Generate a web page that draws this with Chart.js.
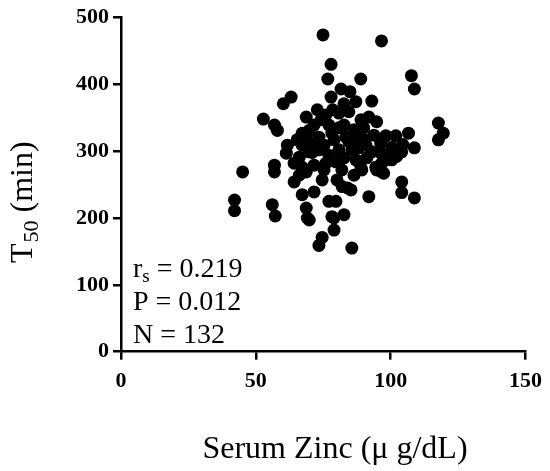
<!DOCTYPE html>
<html>
<head>
<meta charset="utf-8">
<script src="https://cdn.jsdelivr.net/npm/chart.js@4"></script>
<style>
  html, body { margin: 0; padding: 0; background: #fff; }
  #wrap { width: 550px; height: 471px; position: relative; }
</style>
</head>
<body>
<div id="wrap"><canvas id="myChart" width="550" height="471"></canvas></div>
<script>
// serum zinc (µg/dL) per patient
const zincValues = [
  74.9, 96.6, 77.9, 76.7, 88.9, 77.9, 81.6, 84.9, 87.1, 93.0,
  82.7, 107.7, 108.8, 63.1, 60.2, 52.8, 56.9, 58.0, 68.7, 74.2,
  80.8, 91.9, 94.8, 117.7, 119.5, 117.7, 106.6, 101.9, 98.2, 108.8,
  93.0, 100.4, 102.2, 104.1, 96.7, 94.8, 97.4, 87.1, 89.0, 104.1,
  104.1, 108.8, 91.9, 85.3, 80.1, 82.0, 79.7, 82.7, 78.2, 79.0,
  85.6, 45.1, 42.1, 42.1, 56.9, 56.9, 56.1, 57.2, 61.3, 64.2,
  66.1, 64.2, 67.2, 68.7, 69.1, 67.2, 68.7, 68.7, 69.8, 67.2,
  68.7, 74.6, 76.0, 79.7, 81.9, 84.0, 88.2, 89.3, 71.6, 69.8,
  77.1, 74.6, 73.4, 79.0, 96.3, 94.5, 98.2, 67.2, 73.4, 78.2,
  83.4, 88.2, 90.8, 73.4, 70.9, 80.8, 85.6, 100.4, 103.0, 100.4,
  96.7, 69.8, 71.6, 77.1, 82.7, 86.4, 90.0, 75.3, 79.0, 84.5,
  88.2, 80.8, 77.1, 82.7, 71.6, 75.3, 65.3, 89.0, 84.5, 78.5,
  76.0, 90.5, 93.8, 61.7, 66.1, 72.8, 86.4, 96.4, 104.5, 91.2,
  72.5, 87.5
];
// T50 (min), same order
const t50Values = [
  474, 465, 430, 408, 408, 381, 393, 389, 374, 375,
  371, 413, 393, 381, 371, 348, 339, 331, 351, 347,
  357, 351, 344, 342, 327, 317, 327, 323, 323, 305,
  299, 299, 292, 299, 282, 272, 267, 287, 275, 254,
  238, 230, 232, 242, 257, 247, 225, 205, 202, 182,
  155, 269, 227, 211, 279, 269, 220, 203, 297, 282,
  291, 254, 235, 215, 200, 309, 321, 312, 299, 276,
  269, 257, 282, 284, 272, 245, 284, 272, 239, 197,
  225, 171, 159, 200, 312, 276, 287, 327, 321, 327,
  321, 324, 309, 302, 298, 302, 302, 306, 297, 287,
  269, 331, 339, 339, 339, 332, 335, 309, 317, 314,
  305, 335, 294, 290, 279, 272, 317, 347, 359, 362,
  354, 317, 324, 309, 264, 362, 264, 297, 310, 290,
  313, 318
];

const xTicks = [0, 50, 100, 150];
const yTicks = [0, 100, 200, 300, 400, 500];
const statLines = [
  { main: 'r', sub: 's', rest: ' = 0.219' },
  { main: 'P = 0.012' },
  { main: 'N = 132' }
];

const SERIF = "'Liberation Serif', 'Times New Roman', serif";

const points = zincValues.map((x, i) => ({ x: x, y: t50Values[i] }));

// titles and stats text drawn by hand (subscripts)
const textPlugin = {
  id: 'textPlugin',
  afterDraw(chart) {
    const ctx = chart.ctx;
    const area = chart.chartArea;
    ctx.save();
    ctx.fillStyle = '#000';
    ctx.textBaseline = 'alphabetic';

    // x title
    ctx.font = '32px ' + SERIF;
    ctx.textAlign = 'center';
    ctx.fillText('Serum Zinc (\u03bc g/dL)', 335, 458);

    // y title, rotated, with subscript
    ctx.save();
    ctx.translate(32, 263);
    ctx.rotate(-Math.PI / 2);
    ctx.textAlign = 'left';
    ctx.font = '32px ' + SERIF;
    ctx.fillText('T', 0, 0);
    let w = ctx.measureText('T').width;
    ctx.font = '22px ' + SERIF;
    ctx.fillText('50', w + 1, 6);
    w += ctx.measureText('50').width + 1;
    ctx.font = '32px ' + SERIF;
    ctx.fillText(' (min)', w, 0);
    ctx.restore();

    // stats lines
    ctx.textAlign = 'left';
    let y = 277;
    statLines.forEach(line => {
      let x = area.left + 12;
      ctx.font = '28px ' + SERIF;
      ctx.fillText(line.main, x, y);
      x += ctx.measureText(line.main).width;
      if (line.sub) {
        ctx.font = '19px ' + SERIF;
        ctx.fillText(line.sub, x, y + 5);
        x += ctx.measureText(line.sub).width;
        ctx.font = '28px ' + SERIF;
        ctx.fillText(line.rest, x, y);
      }
      y += 33;
    });
    ctx.restore();
  }
};

new Chart(document.getElementById('myChart'), {
  type: 'scatter',
  data: {
    datasets: [{
      data: points,
      backgroundColor: '#000',
      borderColor: '#000',
      pointRadius: 6.5,
      pointHoverRadius: 6.5,
      borderWidth: 0
    }]
  },
  options: {
    responsive: false,
    animation: false,
    events: [],
    layout: { padding: { top: 17.5, right: 22.3, left: 0, bottom: 0 } },
    plugins: {
      legend: { display: false },
      tooltip: { enabled: false }
    },
    scales: {
      x: {
        type: 'linear',
        min: 0,
        max: 150,
        afterBuildTicks(scale) { scale.ticks = xTicks.map(v => ({ value: v })); },
        afterFit(scale) { scale.height = 471 - 351.7; },
        border: { display: true, color: '#000', width: 2.5 },
        grid: { display: true, drawOnChartArea: false, drawTicks: true, tickLength: 8, color: '#000', lineWidth: 2.5 },
        ticks: { color: '#000', padding: 8, font: { family: SERIF, size: 22, weight: 'bold' } }
      },
      y: {
        type: 'linear',
        min: 0,
        max: 500,
        afterBuildTicks(scale) { scale.ticks = yTicks.map(v => ({ value: v })); },
        afterFit(scale) { scale.width = 121; },
        border: { display: true, color: '#000', width: 2.5 },
        grid: { display: true, drawOnChartArea: false, drawTicks: true, tickLength: 8, color: '#000', lineWidth: 2.5 },
        ticks: { color: '#000', padding: 4, font: { family: SERIF, size: 22, weight: 'bold' } }
      }
    }
  },
  plugins: [textPlugin]
});
</script>
</body>
</html>
